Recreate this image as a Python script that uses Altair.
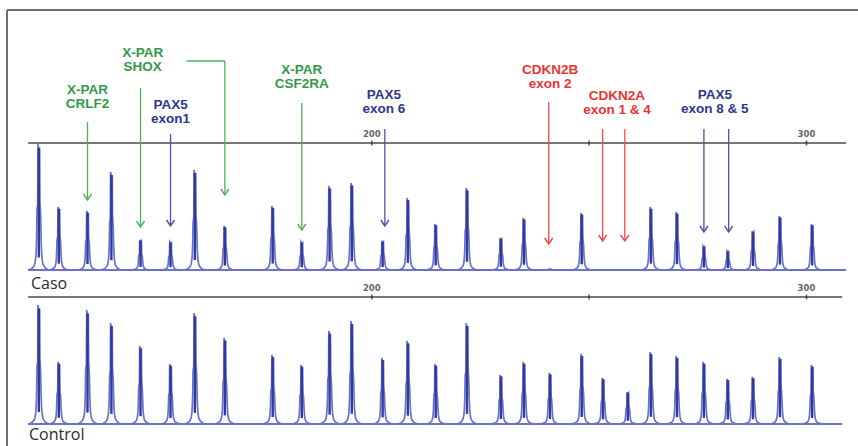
import altair as alt
import pandas as pd

# ---------------- data ----------------
# fragment sizes (bp) of the MLPA probes
peak_bp = [123.4, 128.0, 134.6, 140.1, 146.8, 153.7, 159.3, 166.2, 177.2, 183.9,
           190.3, 195.4, 202.5, 208.3, 214.7, 221.9, 229.7, 235.0, 241.0, 248.3,
           253.2, 258.9, 264.2, 270.2, 276.4, 281.9, 287.7, 293.9, 301.3]
# peak heights (relative fluorescence, arbitrary units)
caso_h = [126, 63, 59, 98, 30, 28, 100, 44, 64, 28,
          84, 87, 29, 72, 46, 82, 32, 52, 1, 57,
          0, 0, 63, 58, 24, 19, 39, 54, 46]
control_h = [119, 62, 114, 101, 78, 60, 111, 86, 69, 59,
             93, 103, 66, 83, 60, 101, 49, 62, 51, 70,
             46, 32, 72, 68, 62, 45, 47, 67, 59]

tick_values = [200, 250, 300]
tick_labels = ["200", "", "300"]
trace_start = 120.9
trace_end_top = 309.1
trace_end_bottom = 308.2

ann_line1 = ["X-PAR", "X-PAR", "PAX5", "X-PAR", "PAX5", "CDKN2B", "CDKN2A", "PAX5"]
ann_line2 = ["CRLF2", "SHOX", "exon1", "CSF2RA", "exon 6", "exon 2", "exon 1 & 4", "exon 8 & 5"]
ann_group = ["X-PAR", "X-PAR", "PAX5", "X-PAR", "PAX5", "CDKN2", "CDKN2", "PAX5"]
ann_x = [134.6, 147.3, 153.7, 183.9, 202.8, 241.0, 256.4, 278.9]
ann_y = [180, 217, 165, 200, 175, 200, 174, 175]

arrow_x = [134.6, 146.8, 166.2, 153.7, 183.9, 203.0, 240.7, 253.1, 258.2, 276.4, 282.1]
arrow_y1 = [148, 182, 209, 136, 167, 141, 168, 141, 141, 141, 141]
arrow_y2 = [70, 43, 75, 44, 40, 44, 26, 29, 29, 38, 38]
arrow_group = ["X-PAR", "X-PAR", "X-PAR", "PAX5", "X-PAR", "PAX5", "CDKN2", "CDKN2", "CDKN2", "PAX5", "PAX5"]
bracket_x = [157.4]
bracket_x2 = [166.2]
bracket_y = [209]

# ---------------- styling ----------------
PX_PER_BP = 4.347
XDOM = [114.47, 311.85]
xs = alt.Scale(domain=XDOM, nice=False, zero=False)
top_ys = alt.Scale(domain=[-176, 270], nice=False, zero=False)
bot_ys = alt.Scale(domain=[-22, 424], nice=False, zero=False)

text_colors = alt.Scale(domain=["X-PAR", "PAX5", "CDKN2"], range=["#35994a", "#2d378e", "#ec3434"])
arrow_colors = alt.Scale(domain=["X-PAR", "PAX5", "CDKN2"], range=["#4db357", "#4b52aa", "#f24a44"])

# peak profile (offset in px, fraction of peak height)
profile = [(-10, 0), (-7, 0.012), (-5, 0.03), (-3.8, 0.055), (-3, 0.1), (-2.5, 0.17),
           (-2.2, 0.26), (-1.8, 0.48), (-1.1, 0.52), (-0.8, 1.0), (0.1, 0.94), (0.8, 0.97),
           (1.1, 0.55), (1.8, 0.44), (2.3, 0.24), (2.7, 0.15), (3.2, 0.09), (4.0, 0.05),
           (5.5, 0.025), (7.5, 0.01), (10, 0)]


def trace_df(heights, end):
    rows = [{"bp": trace_start, "v": 0}]
    for p, h in zip(peak_bp, heights):
        for dx, f in profile:
            rows.append({"bp": p + dx / PX_PER_BP, "v": h * f})
    rows.append({"bp": end, "v": 0})
    return pd.DataFrame(rows).sort_values("bp")


ticks = pd.DataFrame({"bp": tick_values, "label": tick_labels})
ann = pd.DataFrame({"x": ann_x, "y": ann_y, "t1": ann_line1, "t2": ann_line2, "g": ann_group})
arrows = pd.DataFrame({"x": arrow_x, "y1": arrow_y1, "y2": arrow_y2, "g": arrow_group})
bracket = pd.DataFrame({"x": bracket_x, "x2": bracket_x2, "y": bracket_y})


def panel(heights, end, ys):
    tdf = trace_df(heights, end)
    pk = pd.DataFrame({"bp": peak_bp, "h": heights})
    axis_line = alt.Chart(pd.DataFrame({"a": [trace_start], "b": [end], "y": [127]})).mark_rule(
        color="#4a4a4a", strokeWidth=1.4).encode(
        x=alt.X("a:Q", scale=xs, axis=None), x2="b:Q", y=alt.Y("y:Q", scale=ys, axis=None))
    base = alt.Chart(pd.DataFrame({"a": [trace_start], "b": [end], "y": [0]})).mark_rule(
        color="#6e74c4", strokeWidth=2.2).encode(
        x=alt.X("a:Q", scale=xs, axis=None), x2="b:Q", y=alt.Y("y:Q", scale=ys, axis=None))
    outline = alt.Chart(tdf).mark_line(color="#6a71c6", strokeWidth=1.7, interpolate="linear").encode(
        x=alt.X("bp:Q", scale=xs, axis=None), y=alt.Y("v:Q", scale=ys, axis=None), order="bp:Q")
    core = alt.Chart(pk).transform_filter("datum.h > 2").transform_calculate(
        lo="datum.h * 0.1", hi="datum.h * 0.97").mark_rule(color="#2c3aa2", strokeWidth=2.4).encode(
        x=alt.X("bp:Q", scale=xs, axis=None), y=alt.Y("lo:Q", scale=ys, axis=None), y2="hi:Q")
    tk = alt.Chart(ticks).mark_tick(color="#222", thickness=1.6, size=5, orient="vertical").encode(
        x=alt.X("bp:Q", scale=xs, axis=None), y=alt.Y("y:Q", scale=ys, axis=None)).transform_calculate(y="127")
    tl = alt.Chart(ticks).mark_text(font="DejaVu Sans", fontSize=8.5, fontWeight="bold", color="#666",
                                     baseline="middle").encode(
        x=alt.X("bp:Q", scale=xs, axis=None), y=alt.Y("y:Q", scale=ys, axis=None), text="label:N"
    ).transform_calculate(y="136")
    return [axis_line, base, outline, core, tk, tl]


layers = []
layers += panel(caso_h, trace_end_top, top_ys)
layers += panel(control_h, trace_end_bottom, bot_ys)

# annotations (top panel)
t1 = alt.Chart(ann).mark_text(font="Liberation Sans", fontSize=13.5, fontWeight="bold", baseline="middle").encode(
    x=alt.X("x:Q", scale=xs, axis=None), y=alt.Y("y:Q", scale=top_ys, axis=None), text="t1:N",
    color=alt.Color("g:N", scale=text_colors, legend=None))
t2 = alt.Chart(ann).transform_calculate(y2="datum.y - 14").mark_text(
    font="Liberation Sans", fontSize=13.5, fontWeight="bold", baseline="middle").encode(
    x=alt.X("x:Q", scale=xs, axis=None), y=alt.Y("y2:Q", scale=top_ys, axis=None), text="t2:N",
    color=alt.Color("g:N", scale=text_colors, legend=None))
ar = alt.Chart(arrows).mark_rule(strokeWidth=1.3).encode(
    x=alt.X("x:Q", scale=xs, axis=None), y=alt.Y("y1:Q", scale=top_ys, axis=None), y2="y2:Q",
    color=alt.Color("g:N", scale=arrow_colors, legend=None))
head = alt.Chart(arrows).mark_point(shape="M-1,-1.5L0,0L1,-1.5", size=64, filled=False, strokeWidth=1.4,
                                    opacity=1).encode(
    x=alt.X("x:Q", scale=xs, axis=None), y=alt.Y("y2:Q", scale=top_ys, axis=None),
    color=alt.Color("g:N", scale=arrow_colors, legend=None))
br = alt.Chart(bracket).mark_rule(strokeWidth=1.3, color="#4db357").encode(
    x=alt.X("x:Q", scale=xs, axis=None), x2="x2:Q", y=alt.Y("y:Q", scale=top_ys, axis=None))
layers += [ar, br, head, t1, t2]

# frame and panel names
frame_top = alt.Chart(pd.DataFrame({"k": [0]})).mark_rule(color="#707070", strokeWidth=2).encode(
    x=alt.value(7), x2=alt.value(858), y=alt.value(10))
frame_left = alt.Chart(pd.DataFrame({"k": [0]})).mark_rule(color="#707070", strokeWidth=2).encode(
    x=alt.value(7), y=alt.value(10), y2=alt.value(446))
caso = alt.Chart(pd.DataFrame({"t": ["Caso"]})).mark_text(
    font="Open Sans", fontSize=16, color="#2a2a2a", align="left", baseline="middle").encode(
    x=alt.value(31), y=alt.value(284), text="t:N")
control = alt.Chart(pd.DataFrame({"t": ["Control"]})).mark_text(
    font="Open Sans", fontSize=16, color="#2a2a2a", align="left", baseline="middle").encode(
    x=alt.value(29), y=alt.value(435), text="t:N")
layers += [frame_top, frame_left, caso, control]

chart = alt.layer(*layers).resolve_scale(y="independent", color="independent").properties(
    width=858, height=446, padding=0,
    autosize=alt.AutoSizeParams(type="none"),
    background="white",
).configure_view(stroke=None)

chart.save("out.html", embed_options={"renderer": "svg", "actions": False})
